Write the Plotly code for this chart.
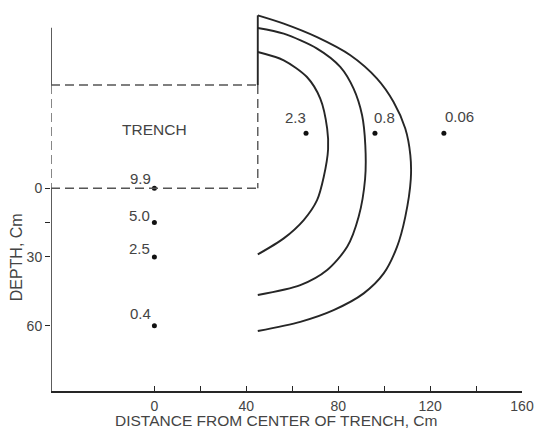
import plotly.graph_objects as go

# ---- data ----
# isopleth curves (distance from trench center, depth), cm
curve1_x = [45, 56.3, 66.4, 72.2, 75.2, 75.6, 73.7, 70.8, 65.0, 56.3, 45]
curve1_y = [-59.4, -55.8, -48.5, -39.1, -26.0, -17.0, -4.9, 5.2, 13.9, 21.9, 28.9]
curve2_x = [45, 56.3, 70.8, 80.9, 86.7, 90.4, 91.8, 91.7, 88.9, 83.9, 75.2, 63.5, 45]
curve2_y = [-69.9, -67.4, -60.9, -52.9, -43.4, -31.8, -18.7, -4.0, 12.5, 25.6, 35.7, 42.3, 46.6]
curve3_x = [45, 56.3, 70.8, 85.3, 96.9, 104.1, 109.2, 111.4, 111.6, 109.2, 105.6, 99.8, 91.1, 78.0, 63.5, 45]
curve3_y = [-75.4, -71.8, -65.9, -58.0, -47.8, -37.6, -26.0, -14.4, -4.0, 12.5, 25.6, 37.2, 45.9, 53.2, 58.3, 62.3]

# sample points: x, depth, value label
pt_x = [0, 0, 0, 0, 66, 96, 126]
pt_y = [0, 15, 30, 60, -24, -24, -24]
pt_labels = ["9.9", "5.0", "2.5", "0.4", "2.3", "0.8", "0.06"]
lbl_dx = [-14, -14.5, -14.5, -13.6, -11, 10, 15.3]
lbl_dy = [10, 6.6, 8.5, 11.7, 16, 16, 16.3]

x_tickvals = [0, 20, 40, 60, 80, 100, 120, 140, 160]
x_ticktext = ["0", "", "40", "", "80", "", "120", "", "160"]
y_tickvals = [0, 15, 30, 60]
y_ticktext = ["0", "", "30", "60"]

TRENCH_HALF = 45
TRENCH_DEPTH = 45
X_RANGE = [-45, 160]
Y_RANGE = [88.5, -76]
AXIS_TOP = -70
WALL_TOP = -75.4

FONT = "Liberation Sans, Arial, Helvetica, sans-serif"
TXT = "#444444"
LINE = "#262626"
DASH = "#555555"

fig = go.Figure()
for cx, cy in [(curve1_x, curve1_y), (curve2_x, curve2_y), (curve3_x, curve3_y)]:
    fig.add_trace(go.Scatter(x=cx, y=cy, mode="lines",
                             line=dict(color=LINE, width=1.9, shape="spline", smoothing=0.8),
                             hoverinfo="skip", showlegend=False))

fig.add_trace(go.Scatter(x=pt_x, y=pt_y, mode="markers",
                         marker=dict(color="#111111", size=5),
                         showlegend=False))

shapes = []
# left axis line (solid above and below trench)
shapes.append(dict(type="line", xref="x", yref="y", x0=X_RANGE[0], x1=X_RANGE[0],
                   y0=AXIS_TOP, y1=-TRENCH_DEPTH, line=dict(color=LINE, width=1.5)))
shapes.append(dict(type="line", xref="x", yref="y", x0=X_RANGE[0], x1=X_RANGE[0],
                   y0=0, y1=Y_RANGE[0], line=dict(color=LINE, width=1.5)))
# right trench wall above trench (solid)
shapes.append(dict(type="line", xref="x", yref="y", x0=TRENCH_HALF, x1=TRENCH_HALF,
                   y0=WALL_TOP, y1=-TRENCH_DEPTH, line=dict(color=LINE, width=1.9)))
# dashed trench rectangle
dash = dict(color=DASH, width=1.4, dash="9px,5px")
shapes.append(dict(type="line", xref="x", yref="y", x0=-TRENCH_HALF, x1=TRENCH_HALF,
                   y0=-TRENCH_DEPTH, y1=-TRENCH_DEPTH, line=dash))
shapes.append(dict(type="line", xref="x", yref="y", x0=-TRENCH_HALF, x1=TRENCH_HALF,
                   y0=0, y1=0, line=dash))
shapes.append(dict(type="line", xref="x", yref="y", x0=-TRENCH_HALF, x1=-TRENCH_HALF,
                   y0=-TRENCH_DEPTH, y1=0, line=dash))
shapes.append(dict(type="line", xref="x", yref="y", x0=TRENCH_HALF, x1=TRENCH_HALF,
                   y0=-TRENCH_DEPTH, y1=0, line=dash))

annotations = []
for x, y, t, dx, dy in zip(pt_x, pt_y, pt_labels, lbl_dx, lbl_dy):
    annotations.append(dict(x=x, y=y, xref="x", yref="y", text=t, showarrow=False,
                            xanchor="center", yanchor="middle", xshift=dx, yshift=dy,
                            font=dict(family=FONT, size=15, color=TXT)))
annotations.append(dict(x=0, y=-25.7, xref="x", yref="y", text="TRENCH", showarrow=False,
                        xanchor="center", yanchor="middle",
                        font=dict(family=FONT, size=15.5, color=TXT)))
annotations.append(dict(x=53, y=0, xref="x", yref="paper", text="DISTANCE FROM CENTER OF TRENCH, Cm",
                        showarrow=False, xanchor="center", yanchor="middle", yshift=-29,
                        font=dict(family=FONT, size=15.5, color=TXT)))
annotations.append(dict(x=0, y=30, xref="paper", yref="y", text="DEPTH, Cm", textangle=-90,
                        showarrow=False, xanchor="center", yanchor="middle", xshift=-33.6,
                        font=dict(family=FONT, size=16, color=TXT)))

fig.update_layout(
    width=536, height=430,
    margin=dict(l=50.6, r=14.3, t=13.6, b=38.9, autoexpand=False),
    paper_bgcolor="white", plot_bgcolor="white",
    shapes=shapes, annotations=annotations,
    hovermode=False,
    xaxis=dict(range=X_RANGE, showgrid=False, zeroline=False, showline=True,
               linecolor=LINE, linewidth=1.5, ticks="inside", ticklen=5, tickwidth=1.2,
               tickcolor=LINE, tickvals=x_tickvals, ticktext=x_ticktext,
               ticklabelstandoff=1,
               tickfont=dict(family=FONT, size=14, color=TXT)),
    yaxis=dict(range=Y_RANGE, showgrid=False, zeroline=False, showline=False,
               ticks="outside", ticklen=5, tickwidth=1.2, tickcolor=LINE,
               tickvals=y_tickvals, ticktext=y_ticktext,
               tickfont=dict(family=FONT, size=14, color=TXT)),
)

# remove the default 8px page margin so the figure fills the window exactly
fig.write_html("out.html",
               config={"displayModeBar": False},
               post_script="document.body.style.margin='0';document.body.style.overflow='hidden';")
